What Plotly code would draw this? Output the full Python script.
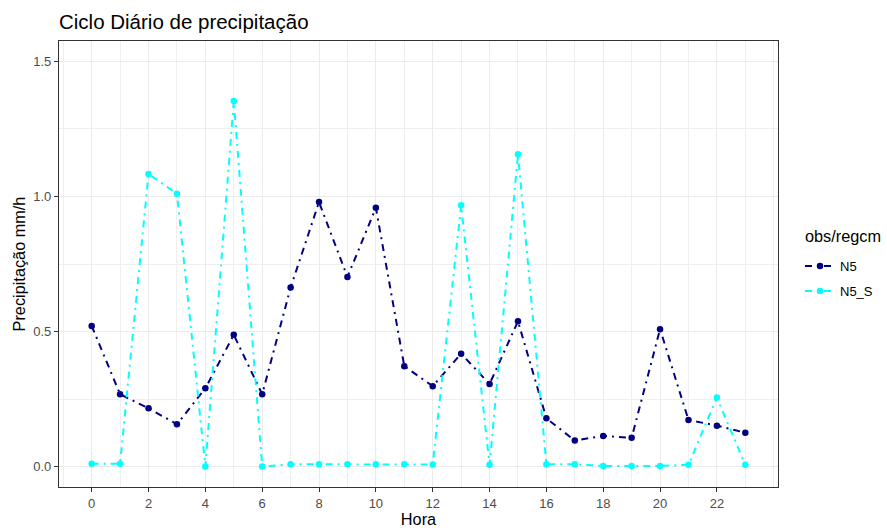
import plotly.graph_objects as go

hours = list(range(24))
n5 = [0.521, 0.268, 0.216, 0.157, 0.290, 0.488, 0.268, 0.663, 0.979, 0.702,
      0.958, 0.372, 0.298, 0.418, 0.306, 0.538, 0.179, 0.097, 0.114, 0.107,
      0.509, 0.173, 0.152, 0.126]
n5_s = [0.011, 0.011, 1.083, 1.010, 0.001, 1.353, 0.001, 0.009, 0.009, 0.009,
        0.009, 0.009, 0.008, 0.967, 0.007, 1.156, 0.009, 0.009, 0.003, 0.003,
        0.003, 0.007, 0.256, 0.007]
x_ticks = list(range(0, 23, 2))
y_ticks = [0.0, 0.5, 1.0, 1.5]
y_ticklabels = ["0.0", "0.5", "1.0", "1.5"]

FONT = "Liberation Sans, Arial, sans-serif"
dash = "7px,5px,2px,5px"

fig = go.Figure()
fig.add_trace(go.Scatter(x=hours, y=n5, mode="lines+markers", name="N5", legendgroup="a",
                         line=dict(color="#000080", width=2, dash=dash),
                         marker=dict(color="#000080", size=6.5)))
fig.add_trace(go.Scatter(x=hours, y=n5_s, mode="lines+markers", name="N5_S", legendgroup="b",
                         line=dict(color="#00FFFF", width=2, dash=dash),
                         marker=dict(color="#00FFFF", size=6.5)))

axis_common = dict(
    showgrid=True, gridcolor="#EBEBEB", gridwidth=1,
    showline=True, linecolor="#333333", linewidth=1.2, mirror=True,
    ticks="outside", ticklen=4, tickcolor="#333333", tickwidth=1,
    tickfont=dict(family=FONT, size=13, color="#4D4D4D"),
    zeroline=False, automargin=False,
)

fig.update_layout(
    width=887, height=528,
    paper_bgcolor="white", plot_bgcolor="white",
    margin=dict(l=59, r=109, t=41, b=41, autoexpand=False),
    title=dict(text="Ciclo Diário de precipitação", xref="paper", x=0, xanchor="left",
               yref="container", y=1 - 22/528, yanchor="middle",
               font=dict(family=FONT, size=20.5, color="black")),
    xaxis=dict(**axis_common, range=[-1.15, 24.15], tickmode="array",
               tickvals=x_ticks, ticktext=[str(v) for v in x_ticks],
               minor=dict(dtick=1, tick0=0, showgrid=True, gridcolor="#EFEFEF", gridwidth=0.6, ticks=""),
               title=dict(text="Hora", font=dict(family=FONT, size=16.3, color="black"), standoff=8)),
    yaxis=dict(**axis_common, range=[-0.075, 1.575], tickmode="array",
               tickvals=y_ticks, ticktext=y_ticklabels,
               minor=dict(dtick=0.25, tick0=0, showgrid=True, gridcolor="#EFEFEF", gridwidth=0.6, ticks=""),
               title=dict(text="Precipitação mm/h", font=dict(family=FONT, size=16.3, color="black"), standoff=3)),
    legend=dict(font=dict(family=FONT, size=13, color="black"),
                x=1.0306, xanchor="left", y=0.529, yanchor="top",
                traceorder="grouped", tracegroupgap=5,
                bgcolor="rgba(0,0,0,0)", itemwidth=30),
    showlegend=True,
    annotations=[dict(text="obs/regcm", xref="paper", yref="paper",
                      x=1.0348, y=0.5628, xanchor="left", yanchor="middle",
                      showarrow=False, font=dict(family=FONT, size=16.3, color="black"))],
)

fig.write_html("out.html", config={"displayModeBar": False},
               post_script="document.body.style.margin='0';document.body.style.overflow='hidden';")
